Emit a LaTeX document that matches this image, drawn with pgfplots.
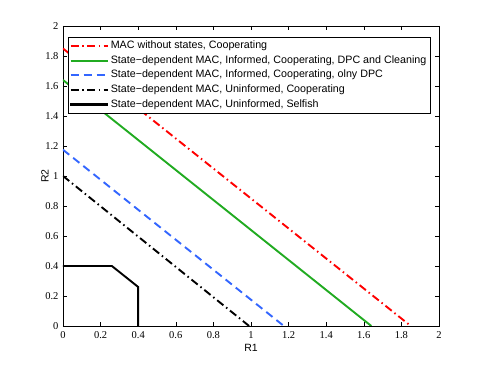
\documentclass[border=0pt]{standalone}
\usepackage{fontspec}
\setmainfont{Liberation Serif}
\setsansfont{Liberation Sans}
\usepackage{pgfplots}
\pgfplotsset{compat=1.18}
\definecolor{mgreen}{rgb}{0.13,0.67,0.13}
\definecolor{mblue}{rgb}{0.2,0.4,1}
\begin{document}
\begin{tikzpicture}[x=1pt,y=1pt]
\useasboundingbox (-63,-41) rectangle (422,326);
\begin{axis}[
  at={(0,0)}, anchor=south west,
  scale only axis, width=376pt, height=300pt,
  xmin=0, xmax=2, ymin=0, ymax=2,
  xtick={0,0.2,...,2}, ytick={0,0.2,...,2},
  tick align=inside, tick pos=both,
  major tick length=4pt,
  tick style={black, line width=0.4pt},
  axis line style={line width=0.5pt},
  /pgf/number format/assume math mode=true,
  /pgf/number format/fixed,
  ticklabel style={font=\fontsize{10.5}{10.5}\selectfont},
  xticklabel style={yshift=-2pt},
  yticklabel style={xshift=-1pt},
  xlabel={\sffamily R1}, ylabel={\sffamily R2},
  label style={font=\sffamily\fontsize{10.5}{10.5}\selectfont},
  xlabel style={at={(axis description cs:0.5,0)}, anchor=center, yshift=-22pt},
  ylabel style={at={(axis description cs:0,0.5)}, anchor=center, yshift=18pt},
  every axis plot/.append style={line width=1.9pt},
  legend cell align=left,
  legend style={at={(0.013,0.963)}, anchor=north west, font=\sffamily\fontsize{10.7}{10.7}\selectfont,
    draw=black, inner sep=1.5pt, row sep=0pt,
    nodes={text height=7.6pt, text depth=2.4pt, inner sep=2.3pt}},
  legend image code/.code={\draw[line width=1.9pt,#1] (0pt,0pt) -- (37pt,0pt);},
]
\addplot[red, dash pattern=on 8pt off 3.5pt on 1.5pt off 3.5pt] coordinates {(0,1.85) (1.85,0)};
\addlegendentry{MAC without states, Cooperating}
\addplot[mgreen, solid] coordinates {(0,1.64) (1.64,0)};
\addlegendentry{State−dependent MAC, Informed, Cooperating, DPC and Cleaning}
\addplot[mblue, dash pattern=on 8pt off 5pt] coordinates {(0,1.175) (1.175,0)};
\addlegendentry{State−dependent MAC, Informed, Cooperating, olny DPC}
\addplot[black, dash pattern=on 8pt off 3.5pt on 1.5pt off 3.5pt] coordinates {(0,1.0) (0.99,0)};
\addlegendentry{State−dependent MAC, Uninformed, Cooperating}
\addplot[black, solid, forget plot] coordinates {(0,0.4) (0.26,0.4) (0.4,0.26) (0.4,0)};
\addlegendimage{legend image code/.code={\fill[black] (0pt,-0.95pt) rectangle (37pt,0.95pt);}}
\addlegendentry{State−dependent MAC, Uninformed, Selfish}
\end{axis}
\end{tikzpicture}
\end{document}
